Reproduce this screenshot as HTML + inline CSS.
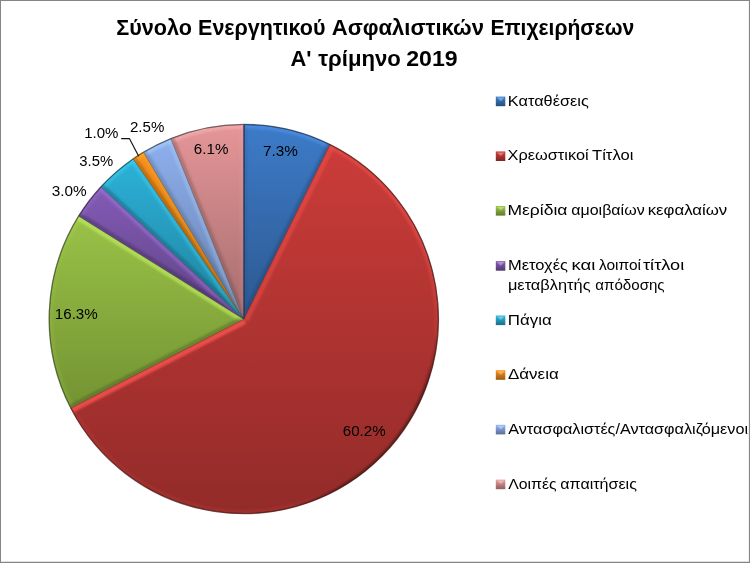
<!DOCTYPE html>
<html><head><meta charset="utf-8"><title>Σύνολο Ενεργητικού Ασφαλιστικών Επιχειρήσεων</title>
<style>html,body{margin:0;padding:0;background:#fff;}svg{display:block}text{font-family:"Liberation Sans",sans-serif;}</style>
</head><body>
<svg width="750" height="563" viewBox="0 0 750 563">
<defs>
<filter id="bl" x="-5%" y="-5%" width="110%" height="110%"><feGaussianBlur stdDeviation="0.9"/></filter>
<linearGradient id="g0" x1="0" y1="0" x2="0" y2="1"><stop offset="0" stop-color="rgb(61,123,200)"/><stop offset="1" stop-color="rgb(44,89,144)"/></linearGradient>
<clipPath id="c0"><path d="M243.8 319L243.8 124.4A194.6 194.6 0 0 1 330.04 144.55Z"/></clipPath>
<linearGradient id="rimh0" gradientUnits="userSpaceOnUse" x1="195.15" y1="507.37" x2="292.45" y2="130.63"><stop offset="0.30" stop-color="rgb(86,159,250)" stop-opacity="0.105"/><stop offset="0.5" stop-color="rgb(86,159,250)" stop-opacity="0.050"/><stop offset="0.56" stop-color="rgb(86,159,250)" stop-opacity="0.063"/><stop offset="0.85" stop-color="rgb(86,159,250)" stop-opacity="0.42"/><stop offset="1" stop-color="rgb(86,159,250)" stop-opacity="0.42"/></linearGradient>
<linearGradient id="rims0" gradientUnits="userSpaceOnUse" x1="93.96" y1="194.85" x2="393.64" y2="443.15"><stop offset="0.9" stop-color="rgb(27,55,90)" stop-opacity="0"/><stop offset="0.975" stop-color="rgb(27,55,90)" stop-opacity="0.85"/><stop offset="1" stop-color="rgb(27,55,90)" stop-opacity="0.85"/></linearGradient>
<linearGradient id="g1" x1="0" y1="0" x2="0" y2="1"><stop offset="0" stop-color="rgb(203,60,57)"/><stop offset="1" stop-color="rgb(146,43,41)"/></linearGradient>
<clipPath id="c1"><path d="M243.8 319L330.04 144.55A194.6 194.6 0 1 1 70.65 407.81Z"/></clipPath>
<linearGradient id="rimh1" gradientUnits="userSpaceOnUse" x1="195.15" y1="507.37" x2="292.45" y2="130.63"><stop offset="0.30" stop-color="rgb(254,85,81)" stop-opacity="0.105"/><stop offset="0.5" stop-color="rgb(254,85,81)" stop-opacity="0.050"/><stop offset="0.56" stop-color="rgb(254,85,81)" stop-opacity="0.063"/><stop offset="0.85" stop-color="rgb(254,85,81)" stop-opacity="0.42"/><stop offset="1" stop-color="rgb(254,85,81)" stop-opacity="0.42"/></linearGradient>
<linearGradient id="rims1" gradientUnits="userSpaceOnUse" x1="93.96" y1="194.85" x2="393.64" y2="443.15"><stop offset="0.9" stop-color="rgb(91,27,26)" stop-opacity="0"/><stop offset="0.975" stop-color="rgb(91,27,26)" stop-opacity="0.85"/><stop offset="1" stop-color="rgb(91,27,26)" stop-opacity="0.85"/></linearGradient>
<linearGradient id="g2" x1="0" y1="0" x2="0" y2="1"><stop offset="0" stop-color="rgb(154,194,72)"/><stop offset="1" stop-color="rgb(115,147,50)"/></linearGradient>
<clipPath id="c2"><path d="M243.8 319L70.65 407.81A194.6 194.6 0 0 1 78.74 215.93Z"/></clipPath>
<linearGradient id="rimh2" gradientUnits="userSpaceOnUse" x1="195.15" y1="507.37" x2="292.45" y2="130.63"><stop offset="0.30" stop-color="rgb(196,243,99)" stop-opacity="0.105"/><stop offset="0.5" stop-color="rgb(196,243,99)" stop-opacity="0.050"/><stop offset="0.56" stop-color="rgb(196,243,99)" stop-opacity="0.063"/><stop offset="0.85" stop-color="rgb(196,243,99)" stop-opacity="0.42"/><stop offset="1" stop-color="rgb(196,243,99)" stop-opacity="0.42"/></linearGradient>
<linearGradient id="rims2" gradientUnits="userSpaceOnUse" x1="93.96" y1="194.85" x2="393.64" y2="443.15"><stop offset="0.9" stop-color="rgb(69,87,32)" stop-opacity="0"/><stop offset="0.975" stop-color="rgb(69,87,32)" stop-opacity="0.85"/><stop offset="1" stop-color="rgb(69,87,32)" stop-opacity="0.85"/></linearGradient>
<linearGradient id="g3" x1="0" y1="0" x2="0" y2="1"><stop offset="0" stop-color="rgb(131,91,182)"/><stop offset="1" stop-color="rgb(94,66,131)"/></linearGradient>
<clipPath id="c3"><path d="M243.8 319L78.74 215.93A194.6 194.6 0 0 1 101 186.8Z"/></clipPath>
<linearGradient id="rimh3" gradientUnits="userSpaceOnUse" x1="195.15" y1="507.37" x2="292.45" y2="130.63"><stop offset="0.30" stop-color="rgb(169,121,229)" stop-opacity="0.105"/><stop offset="0.5" stop-color="rgb(169,121,229)" stop-opacity="0.050"/><stop offset="0.56" stop-color="rgb(169,121,229)" stop-opacity="0.063"/><stop offset="0.85" stop-color="rgb(169,121,229)" stop-opacity="0.42"/><stop offset="1" stop-color="rgb(169,121,229)" stop-opacity="0.42"/></linearGradient>
<linearGradient id="rims3" gradientUnits="userSpaceOnUse" x1="93.96" y1="194.85" x2="393.64" y2="443.15"><stop offset="0.9" stop-color="rgb(59,41,82)" stop-opacity="0"/><stop offset="0.975" stop-color="rgb(59,41,82)" stop-opacity="0.85"/><stop offset="1" stop-color="rgb(59,41,82)" stop-opacity="0.85"/></linearGradient>
<linearGradient id="g4" x1="0" y1="0" x2="0" y2="1"><stop offset="0" stop-color="rgb(44,178,217)"/><stop offset="1" stop-color="rgb(32,128,156)"/></linearGradient>
<clipPath id="c4"><path d="M243.8 319L101 186.8A194.6 194.6 0 0 1 133.31 158.81Z"/></clipPath>
<linearGradient id="rimh4" gradientUnits="userSpaceOnUse" x1="195.15" y1="507.37" x2="292.45" y2="130.63"><stop offset="0.30" stop-color="rgb(66,224,255)" stop-opacity="0.105"/><stop offset="0.5" stop-color="rgb(66,224,255)" stop-opacity="0.050"/><stop offset="0.56" stop-color="rgb(66,224,255)" stop-opacity="0.063"/><stop offset="0.85" stop-color="rgb(66,224,255)" stop-opacity="0.42"/><stop offset="1" stop-color="rgb(66,224,255)" stop-opacity="0.42"/></linearGradient>
<linearGradient id="rims4" gradientUnits="userSpaceOnUse" x1="93.96" y1="194.85" x2="393.64" y2="443.15"><stop offset="0.9" stop-color="rgb(20,80,98)" stop-opacity="0"/><stop offset="0.975" stop-color="rgb(20,80,98)" stop-opacity="0.85"/><stop offset="1" stop-color="rgb(20,80,98)" stop-opacity="0.85"/></linearGradient>
<linearGradient id="g5" x1="0" y1="0" x2="0" y2="1"><stop offset="0" stop-color="rgb(249,144,28)"/><stop offset="1" stop-color="rgb(179,104,20)"/></linearGradient>
<clipPath id="c5"><path d="M243.8 319L133.31 158.81A194.6 194.6 0 0 1 143.6 152.18Z"/></clipPath>
<linearGradient id="rimh5" gradientUnits="userSpaceOnUse" x1="195.15" y1="507.37" x2="292.45" y2="130.63"><stop offset="0.30" stop-color="rgb(255,184,47)" stop-opacity="0.105"/><stop offset="0.5" stop-color="rgb(255,184,47)" stop-opacity="0.050"/><stop offset="0.56" stop-color="rgb(255,184,47)" stop-opacity="0.063"/><stop offset="0.85" stop-color="rgb(255,184,47)" stop-opacity="0.42"/><stop offset="1" stop-color="rgb(255,184,47)" stop-opacity="0.42"/></linearGradient>
<linearGradient id="rims5" gradientUnits="userSpaceOnUse" x1="93.96" y1="194.85" x2="393.64" y2="443.15"><stop offset="0.9" stop-color="rgb(112,65,13)" stop-opacity="0"/><stop offset="0.975" stop-color="rgb(112,65,13)" stop-opacity="0.85"/><stop offset="1" stop-color="rgb(112,65,13)" stop-opacity="0.85"/></linearGradient>
<linearGradient id="g6" x1="0" y1="0" x2="0" y2="1"><stop offset="0" stop-color="rgb(142,176,238)"/><stop offset="1" stop-color="rgb(102,127,171)"/></linearGradient>
<clipPath id="c6"><path d="M243.8 319L143.6 152.18A194.6 194.6 0 0 1 170.96 138.55Z"/></clipPath>
<linearGradient id="rimh6" gradientUnits="userSpaceOnUse" x1="195.15" y1="507.37" x2="292.45" y2="130.63"><stop offset="0.30" stop-color="rgb(182,222,255)" stop-opacity="0.105"/><stop offset="0.5" stop-color="rgb(182,222,255)" stop-opacity="0.050"/><stop offset="0.56" stop-color="rgb(182,222,255)" stop-opacity="0.063"/><stop offset="0.85" stop-color="rgb(182,222,255)" stop-opacity="0.42"/><stop offset="1" stop-color="rgb(182,222,255)" stop-opacity="0.42"/></linearGradient>
<linearGradient id="rims6" gradientUnits="userSpaceOnUse" x1="93.96" y1="194.85" x2="393.64" y2="443.15"><stop offset="0.9" stop-color="rgb(64,79,107)" stop-opacity="0"/><stop offset="0.975" stop-color="rgb(64,79,107)" stop-opacity="0.85"/><stop offset="1" stop-color="rgb(64,79,107)" stop-opacity="0.85"/></linearGradient>
<linearGradient id="g7" x1="0" y1="0" x2="0" y2="1"><stop offset="0" stop-color="rgb(229,150,152)"/><stop offset="1" stop-color="rgb(165,108,109)"/></linearGradient>
<clipPath id="c7"><path d="M243.8 319L170.96 138.55A194.6 194.6 0 0 1 243.8 124.4Z"/></clipPath>
<linearGradient id="rimh7" gradientUnits="userSpaceOnUse" x1="195.15" y1="507.37" x2="292.45" y2="130.63"><stop offset="0.30" stop-color="rgb(255,191,193)" stop-opacity="0.105"/><stop offset="0.5" stop-color="rgb(255,191,193)" stop-opacity="0.050"/><stop offset="0.56" stop-color="rgb(255,191,193)" stop-opacity="0.063"/><stop offset="0.85" stop-color="rgb(255,191,193)" stop-opacity="0.42"/><stop offset="1" stop-color="rgb(255,191,193)" stop-opacity="0.42"/></linearGradient>
<linearGradient id="rims7" gradientUnits="userSpaceOnUse" x1="93.96" y1="194.85" x2="393.64" y2="443.15"><stop offset="0.9" stop-color="rgb(103,68,68)" stop-opacity="0"/><stop offset="0.975" stop-color="rgb(103,68,68)" stop-opacity="0.85"/><stop offset="1" stop-color="rgb(103,68,68)" stop-opacity="0.85"/></linearGradient>
<linearGradient id="m0" x1="0" y1="0" x2="0" y2="1"><stop offset="0" stop-color="rgb(64,129,210)"/><stop offset="1" stop-color="rgb(38,76,124)"/></linearGradient>
<linearGradient id="m1" x1="0" y1="0" x2="0" y2="1"><stop offset="0" stop-color="rgb(213,63,60)"/><stop offset="1" stop-color="rgb(126,37,35)"/></linearGradient>
<linearGradient id="m2" x1="0" y1="0" x2="0" y2="1"><stop offset="0" stop-color="rgb(162,204,76)"/><stop offset="1" stop-color="rgb(95,120,45)"/></linearGradient>
<linearGradient id="m3" x1="0" y1="0" x2="0" y2="1"><stop offset="0" stop-color="rgb(138,96,191)"/><stop offset="1" stop-color="rgb(81,56,113)"/></linearGradient>
<linearGradient id="m4" x1="0" y1="0" x2="0" y2="1"><stop offset="0" stop-color="rgb(46,187,228)"/><stop offset="1" stop-color="rgb(27,110,135)"/></linearGradient>
<linearGradient id="m5" x1="0" y1="0" x2="0" y2="1"><stop offset="0" stop-color="rgb(255,151,29)"/><stop offset="1" stop-color="rgb(154,89,17)"/></linearGradient>
<linearGradient id="m6" x1="0" y1="0" x2="0" y2="1"><stop offset="0" stop-color="rgb(149,185,250)"/><stop offset="1" stop-color="rgb(88,109,148)"/></linearGradient>
<linearGradient id="m7" x1="0" y1="0" x2="0" y2="1"><stop offset="0" stop-color="rgb(240,158,160)"/><stop offset="1" stop-color="rgb(142,93,94)"/></linearGradient>
</defs>
<rect x="0" y="0" width="750" height="563" fill="#fff"/>
<path d="M0 0H750V563H0Z M1 1V561.75H748.9V1Z" fill="#858585" fill-rule="evenodd"/>
<path d="M243.8 319L243.8 124.4A194.6 194.6 0 0 1 330.04 144.55Z" fill="url(#g0)"/>
<g clip-path="url(#c0)"><g filter="url(#bl)"><path d="M243.8 124.4A194.6 194.6 0 0 1 330.04 144.55" fill="none" stroke="url(#rimh0)" stroke-width="8.0"/><polygon points="243.8,319 243.8,124.4 247.16,124.4 247.16,304.62" fill="rgb(27,55,90)" fill-opacity="0.100"/><polygon points="243.8,319 330.04,144.55 327.03,143.06 247.16,304.62" fill="rgb(27,55,90)" fill-opacity="0.351"/></g></g>
<path d="M243.8 319L243.8 124.4A194.6 194.6 0 0 1 330.04 144.55Z" fill="none" stroke="rgb(23,47,76)" stroke-opacity="0.45" stroke-width="0.9" stroke-linejoin="round"/>
<path d="M243.8 124.4A194.6 194.6 0 0 1 330.04 144.55" fill="none" stroke="rgb(20,41,66)" stroke-opacity="0.6" stroke-width="1.3"/>
<path d="M243.8 319L330.04 144.55A194.6 194.6 0 1 1 70.65 407.81Z" fill="url(#g1)"/>
<g clip-path="url(#c1)"><g filter="url(#bl)"><path d="M330.04 144.55A194.6 194.6 0 1 1 70.65 407.81" fill="none" stroke="url(#rimh1)" stroke-width="8.0"/><path d="M330.04 144.55A194.6 194.6 0 1 1 70.65 407.81" fill="none" stroke="url(#rims1)" stroke-width="5.6"/><polygon points="243.8,319 330.04,144.55 334.88,146.95 248.64,321.39" fill="rgb(254,85,81)" fill-opacity="0.395"/><polygon points="243.8,319 70.65,407.81 73.11,412.61 246.26,323.8" fill="rgb(254,85,81)" fill-opacity="0.750"/></g></g>
<path d="M243.8 319L330.04 144.55A194.6 194.6 0 1 1 70.65 407.81Z" fill="none" stroke="rgb(77,23,22)" stroke-opacity="0.45" stroke-width="0.9" stroke-linejoin="round"/>
<path d="M330.04 144.55A194.6 194.6 0 1 1 70.65 407.81" fill="none" stroke="rgb(67,20,19)" stroke-opacity="0.6" stroke-width="1.3"/>
<path d="M243.8 319L70.65 407.81A194.6 194.6 0 0 1 78.74 215.93Z" fill="url(#g2)"/>
<g clip-path="url(#c2)"><g filter="url(#bl)"><path d="M70.65 407.81A194.6 194.6 0 0 1 78.74 215.93" fill="none" stroke="url(#rimh2)" stroke-width="8.0"/><polygon points="243.8,319 70.65,407.81 69.11,404.82 237,318.71" fill="rgb(69,87,32)" fill-opacity="0.450"/><polygon points="243.8,319 78.74,215.93 76.41,219.66 234.89,318.62" fill="rgb(196,243,99)" fill-opacity="0.600"/></g></g>
<path d="M243.8 319L70.65 407.81A194.6 194.6 0 0 1 78.74 215.93Z" fill="none" stroke="rgb(59,74,27)" stroke-opacity="0.45" stroke-width="0.9" stroke-linejoin="round"/>
<path d="M70.65 407.81A194.6 194.6 0 0 1 78.74 215.93" fill="none" stroke="rgb(51,64,24)" stroke-opacity="0.6" stroke-width="1.3"/>
<path d="M243.8 319L78.74 215.93A194.6 194.6 0 0 1 101 186.8Z" fill="url(#g3)"/>
<g clip-path="url(#c3)"><g filter="url(#bl)"><path d="M78.74 215.93A194.6 194.6 0 0 1 101 186.8" fill="none" stroke="url(#rimh3)" stroke-width="8.0"/><polygon points="243.8,319 78.74,215.93 80.52,213.08 215.46,297.34" fill="rgb(59,41,82)" fill-opacity="0.450"/><polygon points="243.8,319 101,186.8 98.28,189.73 210.06,293.22" fill="rgb(169,121,229)" fill-opacity="0.450"/></g></g>
<path d="M243.8 319L78.74 215.93A194.6 194.6 0 0 1 101 186.8Z" fill="none" stroke="rgb(50,35,69)" stroke-opacity="0.45" stroke-width="0.9" stroke-linejoin="round"/>
<path d="M78.74 215.93A194.6 194.6 0 0 1 101 186.8" fill="none" stroke="rgb(43,30,60)" stroke-opacity="0.6" stroke-width="1.3"/>
<path d="M243.8 319L101 186.8A194.6 194.6 0 0 1 133.31 158.81Z" fill="url(#g4)"/>
<g clip-path="url(#c4)"><g filter="url(#bl)"><path d="M101 186.8A194.6 194.6 0 0 1 133.31 158.81" fill="none" stroke="url(#rimh4)" stroke-width="8.0"/><polygon points="243.8,319 101,186.8 103.28,184.33 223.77,295.88" fill="rgb(20,80,98)" fill-opacity="0.450"/><polygon points="243.8,319 133.31,158.81 130.02,161.08 219.96,291.48" fill="rgb(66,224,255)" fill-opacity="0.340"/></g></g>
<path d="M243.8 319L101 186.8A194.6 194.6 0 0 1 133.31 158.81Z" fill="none" stroke="rgb(17,68,82)" stroke-opacity="0.45" stroke-width="0.9" stroke-linejoin="round"/>
<path d="M101 186.8A194.6 194.6 0 0 1 133.31 158.81" fill="none" stroke="rgb(15,59,72)" stroke-opacity="0.6" stroke-width="1.3"/>
<path d="M243.8 319L133.31 158.81A194.6 194.6 0 0 1 143.6 152.18Z" fill="url(#g5)"/>
<g clip-path="url(#c5)"><g filter="url(#bl)"><path d="M133.31 158.81A194.6 194.6 0 0 1 143.6 152.18" fill="none" stroke="url(#rimh5)" stroke-width="8.0"/><polygon points="243.8,319 133.31,158.81 136.08,156.9 185.92,229.17" fill="rgb(112,65,13)" fill-opacity="0.400"/><polygon points="243.8,319 143.6,152.18 140.6,153.98 183.51,225.42" fill="rgb(255,184,47)" fill-opacity="0.269"/></g></g>
<path d="M243.8 319L133.31 158.81A194.6 194.6 0 0 1 143.6 152.18Z" fill="none" stroke="rgb(95,55,11)" stroke-opacity="0.45" stroke-width="0.9" stroke-linejoin="round"/>
<path d="M133.31 158.81A194.6 194.6 0 0 1 143.6 152.18" fill="none" stroke="rgb(82,48,9)" stroke-opacity="0.6" stroke-width="1.3"/>
<path d="M243.8 319L143.6 152.18A194.6 194.6 0 0 1 170.96 138.55Z" fill="url(#g6)"/>
<g clip-path="url(#c6)"><g filter="url(#bl)"><path d="M143.6 152.18A194.6 194.6 0 0 1 170.96 138.55" fill="none" stroke="url(#rimh6)" stroke-width="8.0"/><polygon points="243.8,319 143.6,152.18 146.48,150.45 224.72,280.71" fill="rgb(64,79,107)" fill-opacity="0.300"/><polygon points="243.8,319 170.96,138.55 167.25,140.04 221.09,273.41" fill="rgb(182,222,255)" fill-opacity="0.279"/></g></g>
<path d="M243.8 319L143.6 152.18A194.6 194.6 0 0 1 170.96 138.55Z" fill="none" stroke="rgb(54,67,90)" stroke-opacity="0.45" stroke-width="0.9" stroke-linejoin="round"/>
<path d="M143.6 152.18A194.6 194.6 0 0 1 170.96 138.55" fill="none" stroke="rgb(47,58,79)" stroke-opacity="0.6" stroke-width="1.3"/>
<path d="M243.8 319L170.96 138.55A194.6 194.6 0 0 1 243.8 124.4Z" fill="url(#g7)"/>
<g clip-path="url(#c7)"><g filter="url(#bl)"><path d="M170.96 138.55A194.6 194.6 0 0 1 243.8 124.4" fill="none" stroke="url(#rimh7)" stroke-width="8.0"/><polygon points="243.8,319 170.96,138.55 174.07,137.29 240.44,301.7" fill="rgb(103,68,68)" fill-opacity="0.391"/><polygon points="243.8,319 243.8,124.4 239.6,124.4 239.6,297.37" fill="rgb(255,191,193)" fill-opacity="0.075"/></g></g>
<path d="M243.8 319L170.96 138.55A194.6 194.6 0 0 1 243.8 124.4Z" fill="none" stroke="rgb(87,57,58)" stroke-opacity="0.45" stroke-width="0.9" stroke-linejoin="round"/>
<path d="M170.96 138.55A194.6 194.6 0 0 1 243.8 124.4" fill="none" stroke="rgb(76,50,50)" stroke-opacity="0.6" stroke-width="1.3"/>
<rect x="243.2" y="124.9" width="1.7" height="193.6" fill="#1f3560" fill-opacity="0.7"/>
<path d="M121.2 138.6H129.4L138.7 156.3" fill="none" stroke="#111" stroke-width="1.15" stroke-linejoin="round"/>
<rect x="495.8" y="96.6" width="9.5" height="9.6" fill="url(#m0)"/>
<path d="M497 97.6h7.5l-3.75 3.6z" fill="#fff" fill-opacity="0.35"/>
<rect x="495.8" y="151.4" width="9.5" height="9.6" fill="url(#m1)"/>
<path d="M497 152.4h7.5l-3.75 3.6z" fill="#fff" fill-opacity="0.35"/>
<rect x="495.8" y="206" width="9.5" height="9.6" fill="url(#m2)"/>
<path d="M497 207h7.5l-3.75 3.6z" fill="#fff" fill-opacity="0.35"/>
<rect x="495.8" y="261.1" width="9.5" height="9.6" fill="url(#m3)"/>
<path d="M497 262.1h7.5l-3.75 3.6z" fill="#fff" fill-opacity="0.35"/>
<rect x="495.8" y="315.5" width="9.5" height="9.6" fill="url(#m4)"/>
<path d="M497 316.5h7.5l-3.75 3.6z" fill="#fff" fill-opacity="0.35"/>
<rect x="495.8" y="370.2" width="9.5" height="9.6" fill="url(#m5)"/>
<path d="M497 371.2h7.5l-3.75 3.6z" fill="#fff" fill-opacity="0.35"/>
<rect x="495.8" y="424.8" width="9.5" height="9.6" fill="url(#m6)"/>
<path d="M497 425.8h7.5l-3.75 3.6z" fill="#fff" fill-opacity="0.35"/>
<rect x="495.8" y="479.6" width="9.5" height="9.6" fill="url(#m7)"/>
<path d="M497 480.6h7.5l-3.75 3.6z" fill="#fff" fill-opacity="0.35"/>
<text transform="translate(116.22 35.4) scale(0.9834 1)" font-size="22" font-weight="bold" fill="#000">Σύνολο</text>
<text transform="translate(198.06 35.4) scale(0.9774 1)" font-size="22" font-weight="bold" fill="#000">Ενεργητικού</text>
<text transform="translate(331.76 35.4) scale(1.0033 1)" font-size="22" font-weight="bold" fill="#000">Ασφαλιστικών</text>
<text transform="translate(490.38 35.4) scale(0.9578 1)" font-size="22" font-weight="bold" fill="#000">Επιχειρήσεων</text>
<text transform="translate(290.47 65.5) scale(0.9967 1)" font-size="22" font-weight="bold" fill="#000">Α'</text>
<text transform="translate(318.19 65.5) scale(1.0069 1)" font-size="22" font-weight="bold" fill="#000">τρίμηνο</text>
<text transform="translate(406.20 65.5) scale(1.0514 1)" font-size="22" font-weight="bold" fill="#000">2019</text>
<text transform="translate(262.99 155.6) scale(1.0145 1)" font-size="15.1" fill="#000">7.3%</text>
<text transform="translate(193.80 153.8) scale(1.0053 1)" font-size="15.1" fill="#000">6.1%</text>
<text transform="translate(129.94 131.7) scale(0.9982 1)" font-size="15.1" fill="#000">2.5%</text>
<text transform="translate(84.23 137.7) scale(0.9955 1)" font-size="15.1" fill="#000">1.0%</text>
<text transform="translate(79.36 165.7) scale(0.9829 1)" font-size="15.1" fill="#000">3.5%</text>
<text transform="translate(51.63 195.6) scale(1.0161 1)" font-size="15.1" fill="#000">3.0%</text>
<text transform="translate(54.82 318.8) scale(1.0033 1)" font-size="15.1" fill="#000">16.3%</text>
<text transform="translate(342.80 435.6) scale(1.0014 1)" font-size="15.1" fill="#000">60.2%</text>
<text transform="translate(507.84 105.6) scale(1.0808 1)" font-size="15.1" fill="#000">Καταθέσεις</text>
<text transform="translate(507.62 160.4) scale(1.0809 1)" font-size="15.1" fill="#000">Χρεωστικοί</text>
<text transform="translate(592.00 160.4) scale(1.0996 1)" font-size="15.1" fill="#000">Τίτλοι</text>
<text transform="translate(507.44 215) scale(1.1608 1)" font-size="15.1" fill="#000">Μερίδια</text>
<text transform="translate(571.26 215) scale(1.0593 1)" font-size="15.1" fill="#000">αμοιβαίων</text>
<text transform="translate(647.67 215) scale(1.1131 1)" font-size="15.1" fill="#000">κεφαλαίων</text>
<text transform="translate(507.93 270.1) scale(1.0912 1)" font-size="15.1" fill="#000">Μετοχές</text>
<text transform="translate(571.45 270.1) scale(1.2289 1)" font-size="15.1" fill="#000">και</text>
<text transform="translate(598.93 270.1) scale(1.0263 1)" font-size="15.1" fill="#000">λοιποί</text>
<text transform="translate(642.93 270.1) scale(1.2016 1)" font-size="15.1" fill="#000">τίτλοι</text>
<text transform="translate(507.79 324.5) scale(1.1209 1)" font-size="15.1" fill="#000">Πάγια</text>
<text transform="translate(507.98 379.2) scale(1.1229 1)" font-size="15.1" fill="#000">Δάνεια</text>
<text transform="translate(508.21 433.8) scale(1.0750 1)" font-size="15.1" fill="#000">Αντασφαλιστές/Αντασφαλιζόμενοι</text>
<text transform="translate(508.18 488.6) scale(1.0477 1)" font-size="15.1" fill="#000">Λοιπές</text>
<text transform="translate(560.26 488.6) scale(1.0649 1)" font-size="15.1" fill="#000">απαιτήσεις</text>
<text transform="translate(507.89 289.5) scale(1.0854 1)" font-size="15.1" fill="#000">μεταβλητής</text>
<text transform="translate(595.31 289.5) scale(1.0007 1)" font-size="15.1" fill="#000">απόδοσης</text>
</svg>
</body></html>
